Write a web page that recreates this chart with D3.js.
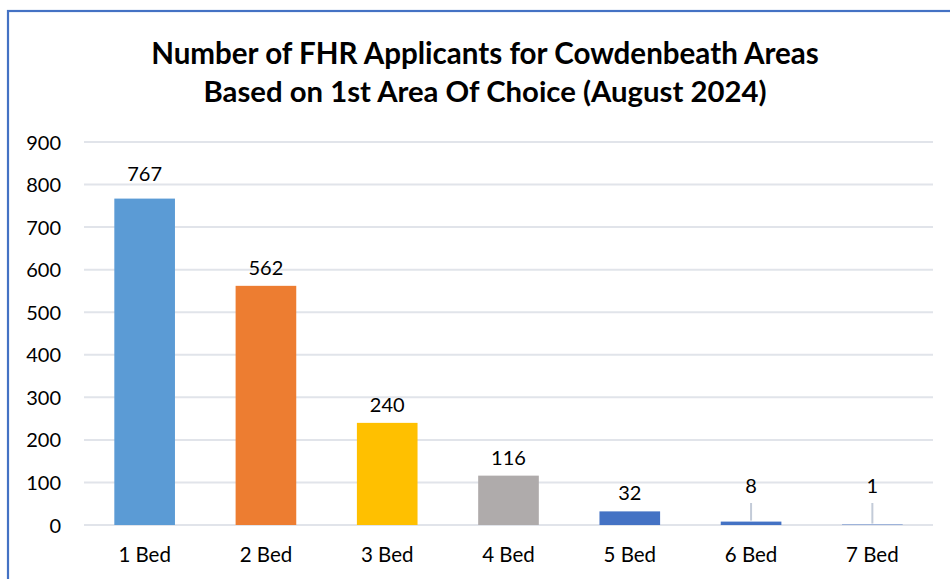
<!DOCTYPE html>
<html>
<head>
<meta charset="utf-8">
<script src="https://cdn.jsdelivr.net/npm/d3@7/dist/d3.min.js"></script>
<style>
  html, body { margin: 0; padding: 0; background: #fff; }
  svg { display: block; }
  text { font-family: Lato, "Open Sans", "Liberation Sans", sans-serif; fill: #000; }
</style>
</head>
<body>
<svg id="chart" width="950" height="579"></svg>
<script>
const titleLines = ["Number of FHR Applicants for Cowdenbeath Areas", "Based on 1st Area Of Choice (August 2024)"];
const categories = ["1 Bed", "2 Bed", "3 Bed", "4 Bed", "5 Bed", "6 Bed", "7 Bed"];
const values = [767, 562, 240, 116, 32, 8, 1];
const barColors = ["#5B9BD5", "#ED7D31", "#FFC000", "#AFABAB", "#4472C4", "#4472C4", "#4472C4"];
const yTicks = [0, 100, 200, 300, 400, 500, 600, 700, 800, 900];

const svg = d3.select("#chart");
const W = 950, H = 579;
const plot = { left: 84, right: 933, top: 142, bottom: 525 };

// Border (chart area frame)
svg.append("rect")
  .attr("x", 8).attr("y", 11).attr("width", 1000).attr("height", 1000)
  .attr("fill", "none").attr("stroke", "#4472C4").attr("stroke-width", 2.2);

// Title
const titleTargets = [668, 563];
const titleY = [52, 90];
titleLines.forEach((t, i) => {
  const tx = svg.append("text")
    .attr("x", 485).attr("y", titleY[i])
    .attr("text-anchor", "middle").attr("dominant-baseline", "central")
    .attr("font-weight", "bold").attr("font-size", 24).text(t);
  const w = tx.node().getComputedTextLength();
  tx.attr("font-size", 24 * titleTargets[i] / w);
});

const x = d3.scaleBand().domain(categories).range([plot.left, plot.right]).paddingInner(0.5).paddingOuter(0.25);
const y = d3.scaleLinear().domain([0, 900]).range([plot.bottom, plot.top]);

// Gridlines
svg.append("g").selectAll("line").data(yTicks).join("line")
  .attr("x1", plot.left).attr("x2", plot.right)
  .attr("y1", d => y(d)).attr("y2", d => y(d))
  .attr("stroke", "#E1E4EA").attr("stroke-width", 2);

// Y axis labels
const yAxis = d3.axisLeft(y).tickValues(yTicks).tickSize(0).tickPadding(0);
const yg = svg.append("g").attr("transform", `translate(61,0)`).call(yAxis);
yg.select(".domain").remove();
yg.selectAll("text").attr("font-size", 20).attr("font-family", "Lato").attr("fill", "#000").attr("dy", "0.35em").attr("x", 0);

// X axis labels
const xAxis = d3.axisBottom(x).tickSize(0).tickPadding(0);
const xg = svg.append("g").attr("transform", `translate(0,555)`).call(xAxis);
xg.select(".domain").remove();
xg.selectAll("text").attr("font-size", 20.5).attr("font-family", "Lato").attr("fill", "#000").attr("dy", "0.35em").attr("y", 0);

// Bars
svg.append("g").selectAll("rect").data(values).join("rect")
  .attr("x", (d, i) => x(categories[i]))
  .attr("width", x.bandwidth())
  .attr("y", d => y(d))
  .attr("height", d => Math.max(0, y(0) - y(d)))
  .attr("fill", (d, i) => barColors[i]);

// Value labels (small bars get a leader line, as in the original)
const small = d => (y(0) - y(d)) < 6;
const lbl = svg.append("g");
values.forEach((v, i) => {
  const cx = x(categories[i]) + x.bandwidth() / 2;
  let ly;
  if (small(v)) {
    ly = y(0) - 40;
    lbl.append("line").attr("x1", cx).attr("x2", cx)
      .attr("y1", ly + 18).attr("y2", y(v) - 1)
      .attr("stroke", "#C3CBD8").attr("stroke-width", 2);
  } else {
    ly = y(v) - (i === 0 ? 26 : 19);
  }
  lbl.append("text").attr("x", cx).attr("y", ly)
    .attr("text-anchor", "middle").attr("dominant-baseline", "central")
    .attr("font-size", 20).text(v);
});
</script>
</body>
</html>
